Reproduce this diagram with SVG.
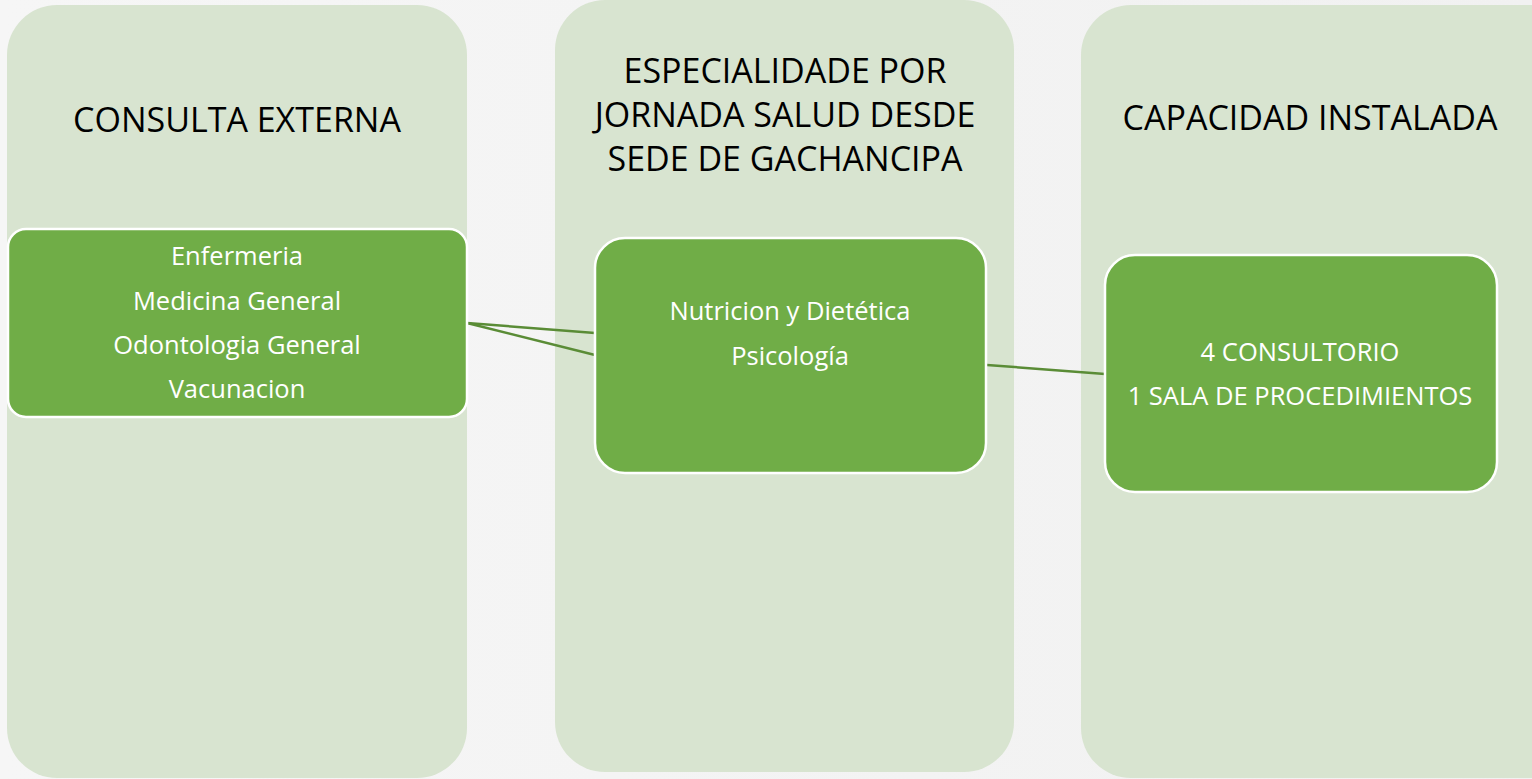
<svg xmlns="http://www.w3.org/2000/svg" width="1532" height="779" viewBox="0 0 1532 779">
<defs>
<linearGradient id="bg" x1="0" y1="0" x2="1" y2="0"><stop offset="0" stop-color="#f6f6f6"/><stop offset="1" stop-color="#f1f1f1"/></linearGradient>
</defs>
<style>
.col{fill:#d8e4d0;}
.box{fill:#70ad47;stroke:#ffffff;stroke-width:2.5;}
.title{font-family:"Open Sans","Liberation Sans",sans-serif;font-size:34px;fill:#000;text-anchor:middle;}
.lbl{font-family:"Open Sans","Liberation Sans",sans-serif;font-size:25.5px;fill:#fff;text-anchor:middle;}
.conn{stroke:#5a8c36;stroke-width:2.5;fill:none;}
</style>
<rect width="1532" height="779" fill="url(#bg)"/>
<g id="col1"><rect class="col" x="7" y="5" width="460" height="773" rx="50" ry="50"/><text class="title" x="237" y="132">CONSULTA EXTERNA</text></g>
<g id="col2"><rect class="col" x="555" y="0" width="459" height="772" rx="50" ry="50"/><text class="title" x="785" y="83">ESPECIALIDADE POR</text><text class="title" x="785" y="127">JORNADA SALUD DESDE</text><text class="title" x="785" y="171">SEDE DE GACHANCIPA</text></g>
<g id="col3"><rect class="col" x="1081" y="5" width="500" height="773" rx="50" ry="50"/><text class="title" x="1310" y="130">CAPACIDAD INSTALADA</text></g>
<g id="connectors">
<line class="conn" x1="467" y1="323" x2="595" y2="333"/>
<line class="conn" x1="467" y1="323" x2="595" y2="355"/>
<line class="conn" x1="987" y1="365" x2="1105" y2="374"/>
</g>
<g id="box1"><rect class="box" x="8" y="229" width="459" height="188" rx="18" ry="18"/>
<text class="lbl" x="237" y="265">Enfermeria</text><text class="lbl" x="237" y="310">Medicina General</text><text class="lbl" x="237" y="354">Odontologia General</text><text class="lbl" x="237" y="398">Vacunacion</text></g>
<g id="box2"><rect class="box" x="595" y="238" width="391" height="235" rx="30" ry="30"/>
<text class="lbl" x="790" y="320">Nutricion y Dietética</text><text class="lbl" x="790" y="365">Psicología</text></g>
<g id="box3"><rect class="box" x="1105" y="255" width="392" height="237" rx="30" ry="30"/>
<text class="lbl" x="1300" y="361">4 CONSULTORIO</text><text class="lbl" x="1300" y="405">1 SALA DE PROCEDIMIENTOS</text></g>
</svg>
